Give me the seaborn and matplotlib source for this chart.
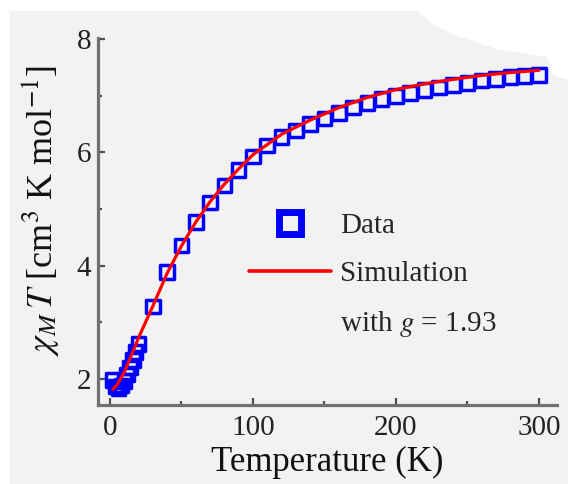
import matplotlib
matplotlib.use("Agg")
import matplotlib.pyplot as plt
import matplotlib.patches as mpatches
from matplotlib.lines import Line2D
from matplotlib.ticker import MultipleLocator
import seaborn as sns
import pandas as pd

# ---- data ----
temp_data = [2, 4, 6, 8, 10, 12, 14, 16, 18, 20,
             30, 40, 50, 60, 70, 80, 90, 100, 110, 120, 130, 140, 150, 160,
             170, 180, 190, 200, 210, 220, 230, 240, 250, 260, 270, 280, 290, 300]
chi_data = [1.98, 1.87, 1.84, 1.89, 1.97, 2.08, 2.20, 2.34, 2.48, 2.62,
            3.28, 3.89, 4.36, 4.77, 5.12, 5.42, 5.69, 5.93, 6.12, 6.27, 6.39, 6.50, 6.60, 6.70,
            6.79, 6.87, 6.94, 7.00, 7.05, 7.10, 7.15, 7.19, 7.23, 7.27, 7.30, 7.33, 7.35, 7.37]

temp_sim = [2, 5, 10, 15, 20, 25, 30, 40, 50, 60, 70, 80, 90, 100,
            120, 140, 160, 180, 200, 220, 240, 260, 280, 300]
chi_sim = [1.82, 1.90, 2.12, 2.42, 2.73, 3.01, 3.29, 3.87, 4.35, 4.77, 5.13, 5.44, 5.71, 5.96,
           6.32, 6.57, 6.79, 6.97, 7.11, 7.21, 7.29, 7.36, 7.41, 7.45]

x_ticks = [0, 100, 200, 300]
y_ticks = [2, 4, 6, 8]

label_data = "Data"
label_sim_1 = "Simulation"
label_sim_2 = "with $g$ = 1.93"

df_data = pd.DataFrame({"T": temp_data, "chiT": chi_data})
df_sim = pd.DataFrame({"T": temp_sim, "chiT": chi_sim})

sns.set_theme(style="ticks")
plt.rcParams["font.family"] = ["Liberation Serif", "DejaVu Serif"]
plt.rcParams["mathtext.fontset"] = "stix"

BG = "#f2f2f2"
SPINE = "#707070"
fig = plt.figure(figsize=(5.68, 4.84), dpi=100, facecolor=BG)
ax = fig.add_axes([0.1725, 0.163, 0.808, 0.7585])
ax.set_facecolor("none")

# white borders of the scanned reference
W, H = 568.0, 484.0
fig.patches.append(mpatches.Rectangle((0, 1 - 11 / H), 1, 11 / H, transform=fig.transFigure,
                                      facecolor="white", edgecolor="none", zorder=-1))
fig.patches.append(mpatches.Rectangle((0, 0), 10 / W, 1, transform=fig.transFigure,
                                      facecolor="white", edgecolor="none", zorder=-1))
poly_px = [(418, 11), (433, 25), (460, 37), (500, 50), (547, 57), (553, 75), (568, 80), (568, 11)]
fig.patches.append(mpatches.Polygon([(x / W, 1 - y / H) for x, y in poly_px], closed=True,
                                    transform=fig.transFigure, facecolor="white",
                                    edgecolor="none", zorder=-1))

BLUE = "#0000ff"
RED = "#ff0000"

sns.scatterplot(data=df_data, x="T", y="chiT", ax=ax, marker="s", s=95,
                facecolor="none", edgecolor=BLUE, linewidth=2.5, zorder=2, legend=False)
sns.lineplot(data=df_sim, x="T", y="chiT", ax=ax, color=RED, linewidth=2.3,
             zorder=3, legend=False)

ax.set_xlim(-8.4, 312.6)
ax.set_ylim(1.54, 8.02)
ax.set_xticks(x_ticks)
ax.set_yticks(y_ticks)
ax.xaxis.set_minor_locator(MultipleLocator(50))
ax.yaxis.set_minor_locator(MultipleLocator(1))

for side in ["top", "right"]:
    ax.spines[side].set_visible(False)
for side in ["left", "bottom"]:
    ax.spines[side].set_color(SPINE)
    ax.spines[side].set_linewidth(2.3)

ax.tick_params(which="both", direction="in", color="#505050", width=1.6,
               labelsize=21, labelcolor="#222222")
ax.tick_params(which="major", length=5, pad=5)
ax.tick_params(axis="x", which="major", pad=7)
ax.tick_params(which="minor", length=3)

ax.set_xlabel("Temperature (K)", fontsize=25, color="#111111", labelpad=4)
ax.set_ylabel(r"$\chi_M\,T$ [cm$^3$ K mol$^{-1}$]", fontsize=26, color="#111111")
ax.yaxis.set_label_coords(-0.08, 0.53)

handles = [
    Line2D([], [], linestyle="none", marker="s", markersize=16, markeredgewidth=5,
           markeredgecolor=BLUE, markerfacecolor="none"),
    Line2D([], [], color=RED, linewidth=2.6),
    Line2D([], [], color="none"),
]
ax.legend(handles, [label_data, label_sim_1, label_sim_2], loc="upper left",
          bbox_to_anchor=(0.33, 0.525), frameon=False, fontsize=21,
          handlelength=2.8, handletextpad=0.3, labelspacing=0.75,
          borderpad=0, borderaxespad=0)

fig.savefig("out.png", dpi=100, facecolor=BG)
